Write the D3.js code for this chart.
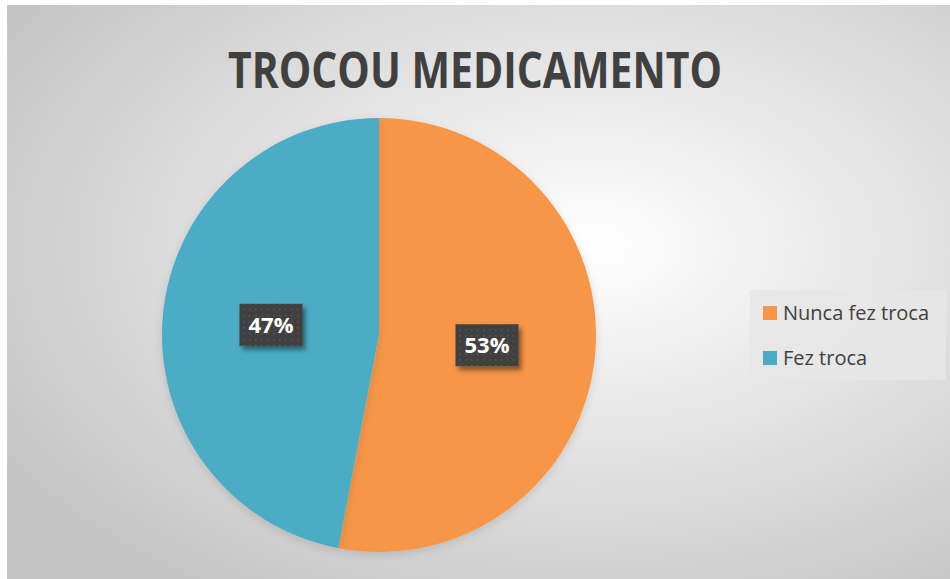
<!DOCTYPE html>
<html>
<head>
<meta charset="utf-8">
<script src="https://cdn.jsdelivr.net/npm/d3@7"></script>
<style>
  html, body { margin: 0; padding: 0; background: #fff; }
  svg { display: block; }
</style>
</head>
<body>
<div id="chart"></div>
<script>
const categories = ["Nunca fez troca", "Fez troca"];
const values = [53, 47];
const colors = ["#F79646", "#4BACC6"];
const title = "TROCOU MEDICAMENTO";

const width = 950, height = 579;
const cx = 379, cy = 335, radius = 217;

const svg = d3.select("#chart").append("svg")
    .attr("width", width)
    .attr("height", height);

const defs = svg.append("defs");

// background gradient
const bg = defs.append("radialGradient")
    .attr("id", "bg-grad")
    .attr("cx", "62%").attr("cy", "42%").attr("r", "75%");
bg.append("stop").attr("offset", "0%").attr("stop-color", "#ffffff");
bg.append("stop").attr("offset", "100%").attr("stop-color", "#c3c3c3");

// dotted pattern for data label boxes
const pat = defs.append("pattern")
    .attr("id", "dots")
    .attr("width", 6).attr("height", 6)
    .attr("patternUnits", "userSpaceOnUse");
pat.append("rect").attr("width", 6).attr("height", 6).attr("fill", "#404040");
pat.append("rect").attr("x", 2).attr("y", 2).attr("width", 1.5).attr("height", 1.5).attr("fill", "#5a5a5a");

const shadow = defs.append("filter").attr("id", "shadow")
    .attr("x", "-30%").attr("y", "-30%").attr("width", "170%").attr("height", "170%");
shadow.append("feDropShadow")
    .attr("dx", 3).attr("dy", 4).attr("stdDeviation", 2.5)
    .attr("flood-color", "#000").attr("flood-opacity", 0.45);

const pieShadow = defs.append("filter").attr("id", "pie-shadow")
    .attr("x", "-20%").attr("y", "-20%").attr("width", "140%").attr("height", "140%");
pieShadow.append("feDropShadow")
    .attr("dx", 0).attr("dy", 3).attr("stdDeviation", 4)
    .attr("flood-color", "#000").attr("flood-opacity", 0.12);

// chart area
svg.append("rect")
    .attr("x", 7).attr("y", 5)
    .attr("width", width - 7).attr("height", height - 5)
    .attr("fill", "url(#bg-grad)");

// title
svg.append("text")
    .attr("x", 475).attr("y", 88)
    .attr("text-anchor", "middle")
    .attr("textLength", 494)
    .attr("lengthAdjust", "spacingAndGlyphs")
    .style("font-family", "'Open Sans', 'Noto Sans', sans-serif")
    .style("font-size", "50px")
    .style("font-weight", "bold")
    .style("fill", "#404040")
    .text(title);

// pie
const pie = d3.pie().sort(null).value(d => d)(values);
const arc = d3.arc().innerRadius(0).outerRadius(radius);

const g = svg.append("g")
    .attr("transform", `translate(${cx}, ${cy})`);

g.selectAll("path")
    .data(pie)
    .enter().append("path")
    .attr("d", arc)
    .attr("fill", (d, i) => colors[i])
    .attr("filter", "url(#pie-shadow)");

// data labels
const labelArc = d3.arc().innerRadius(radius * 0.5).outerRadius(radius * 0.5);
const total = d3.sum(values);

const labels = g.selectAll(".label")
    .data(pie)
    .enter().append("g")
    .attr("class", "label")
    .attr("transform", d => {
        const [x, y] = labelArc.centroid(d);
        return `translate(${x}, ${y})`;
    });

labels.append("rect")
    .attr("x", -31.5).attr("y", -21)
    .attr("width", 63).attr("height", 42)
    .attr("fill", "url(#dots)")
    .attr("filter", "url(#shadow)");

labels.append("text")
    .attr("text-anchor", "middle")
    .attr("y", 8)
    .style("font-family", "'Open Sans', 'Noto Sans', sans-serif")
    .style("font-size", "22px")
    .style("font-weight", "bold")
    .style("fill", "#ffffff")
    .text(d => Math.round(d.value / total * 100) + "%");

// legend
const legend = svg.append("g");
legend.append("rect")
    .attr("x", 750).attr("y", 290)
    .attr("width", 196).attr("height", 90)
    .attr("fill", "#e6e6e6")
    .attr("opacity", 0.85);

const items = legend.selectAll(".item")
    .data(categories)
    .enter().append("g")
    .attr("class", "item")
    .attr("transform", (d, i) => `translate(763, ${306 + i * 45})`);

items.append("rect")
    .attr("width", 14).attr("height", 14)
    .attr("fill", (d, i) => colors[i]);

items.append("text")
    .attr("x", 20).attr("y", 14)
    .style("font-family", "'Open Sans', 'Noto Sans', sans-serif")
    .style("font-size", "20px")
    .style("fill", "#404040")
    .text(d => d);
</script>
</body>
</html>
